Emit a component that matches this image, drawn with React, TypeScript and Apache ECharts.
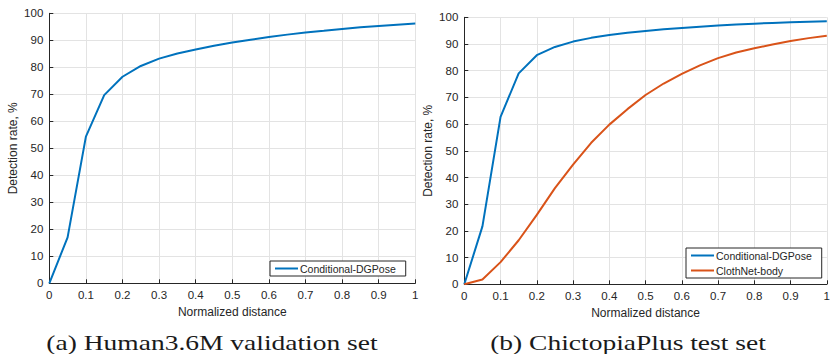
import React, { useEffect, useRef } from "react";
import * as echarts from "echarts";

const xs = [0, 0.05, 0.1, 0.15, 0.2, 0.25, 0.3, 0.35, 0.4, 0.45, 0.5, 0.55, 0.6, 0.65, 0.7, 0.75, 0.8, 0.85, 0.9, 0.95, 1];
const humanDGPose = [0, 17, 54.3, 69.7, 76.5, 80.5, 83.2, 85.1, 86.6, 88, 89.2, 90.2, 91.2, 92.1, 92.9, 93.5, 94.2, 94.8, 95.3, 95.8, 96.2];
const chicDGPose = [0, 21.7, 62.7, 79, 85.8, 88.9, 90.9, 92.3, 93.4, 94.2, 94.9, 95.5, 96, 96.5, 96.9, 97.3, 97.6, 97.9, 98.1, 98.3, 98.5];
const chicClothNet = [0, 1.8, 8.3, 16.5, 26, 36, 44.8, 53, 59.8, 65.6, 70.9, 75.2, 78.8, 82, 84.7, 86.8, 88.4, 89.8, 91.1, 92.2, 93.1];
const xTicks = [0, 0.1, 0.2, 0.3, 0.4, 0.5, 0.6, 0.7, 0.8, 0.9, 1];
const captions = ["(a) Human3.6M validation set", "(b) ChictopiaPlus test set"];
const xTitle = "Normalized distance";
const yTitle = "Detection rate, %";

const BLUE = "#0072BD";
const ORANGE = "#D95319";
const DARK = "#262626";
const GRID = "#e3e3e3";
const FONT = "Liberation Sans, Arial, sans-serif";

function pairs(vals: number[]) {
  return xs.map((x, i) => [x, vals[i]]);
}

function xAxis(gi: number) {
  return {
    type: "value",
    gridIndex: gi,
    min: 0,
    max: 1,
    interval: 0.1,
    name: xTitle,
    nameLocation: "middle",
    nameGap: 21,
    nameTextStyle: { color: DARK, fontSize: 12, fontFamily: FONT },
    axisLine: { show: true, lineStyle: { color: DARK, width: 1 } },
    axisTick: { show: true, inside: true, length: 4, lineStyle: { color: DARK } },
    axisLabel: {
      color: DARK,
      fontSize: 11.5,
      fontFamily: FONT,
      margin: 6,
      formatter: (v: number) => String(Math.round(v * 10) / 10),
      customValues: xTicks,
    },
    splitLine: { show: true, lineStyle: { color: GRID, width: 1 } },
  };
}

function yAxis(gi: number) {
  return {
    type: "value",
    gridIndex: gi,
    min: 0,
    max: 100,
    interval: 10,
    name: yTitle,
    nameLocation: "middle",
    nameGap: 30,
    nameTextStyle: { color: DARK, fontSize: 12, fontFamily: FONT },
    axisLine: { show: true, lineStyle: { color: DARK, width: 1 } },
    axisTick: { show: true, inside: true, length: 4, lineStyle: { color: DARK } },
    axisLabel: { color: DARK, fontSize: 11.5, fontFamily: FONT, margin: 6 },
    splitLine: { show: true, lineStyle: { color: GRID, width: 1 } },
  };
}

function line(name: string, xi: number, vals: number[], color: string) {
  return {
    name,
    type: "line",
    xAxisIndex: xi,
    yAxisIndex: xi,
    data: pairs(vals),
    symbol: "none",
    lineStyle: { color, width: 2 },
    itemStyle: { color },
    z: 5,
  };
}

function caption(text: string, x: number) {
  return {
    type: "text",
    x,
    y: 342,
    scaleX: 1.25,
    style: {
      text,
      fill: "#1a1a1a",
      font: "22px 'Liberation Serif', serif",
      textAlign: "center",
      textVerticalAlign: "middle",
    },
  };
}

export default function App() {
  const ref = useRef<HTMLDivElement>(null);
  useEffect(() => {
    document.body.style.margin = "0";
    const chart = echarts.init(ref.current!, null, { renderer: "svg" });
    const legendCommon = {
      orient: "vertical",
      borderColor: DARK,
      borderWidth: 1,
      backgroundColor: "#fff",
      padding: [2, 10, 2, 5],
      itemWidth: 23,
      itemHeight: 2,
      itemGap: 4,
      icon: "rect",
      textStyle: { color: DARK, fontSize: 10.5, fontFamily: FONT, padding: [0, 0, 0, -3] },
    };
    chart.setOption({
      animation: false,
      backgroundColor: "#fff",
      grid: [
        { left: 49.3, top: 13.3, width: 366, height: 270 },
        { left: 464.3, top: 17.3, width: 366, height: 267 },
      ],
      xAxis: [xAxis(0), xAxis(1)],
      yAxis: [yAxis(0), yAxis(1)],
      legend: [
        { ...legendCommon, left: 270, top: 261, data: ["Conditional-DGPose"] },
        { ...legendCommon, left: 686, top: 248, data: ["Conditional-DGPose", "ClothNet-body"] },
      ],
      series: [
        line("Conditional-DGPose", 0, humanDGPose, BLUE),
        line("Conditional-DGPose", 1, chicDGPose, BLUE),
        line("ClothNet-body", 1, chicClothNet, ORANGE),
      ],
      graphic: [caption(captions[0], 212), caption(captions[1], 628)],
    });
    return () => chart.dispose();
  }, []);
  return <div ref={ref} style={{ width: 833, height: 354 }} />;
}
